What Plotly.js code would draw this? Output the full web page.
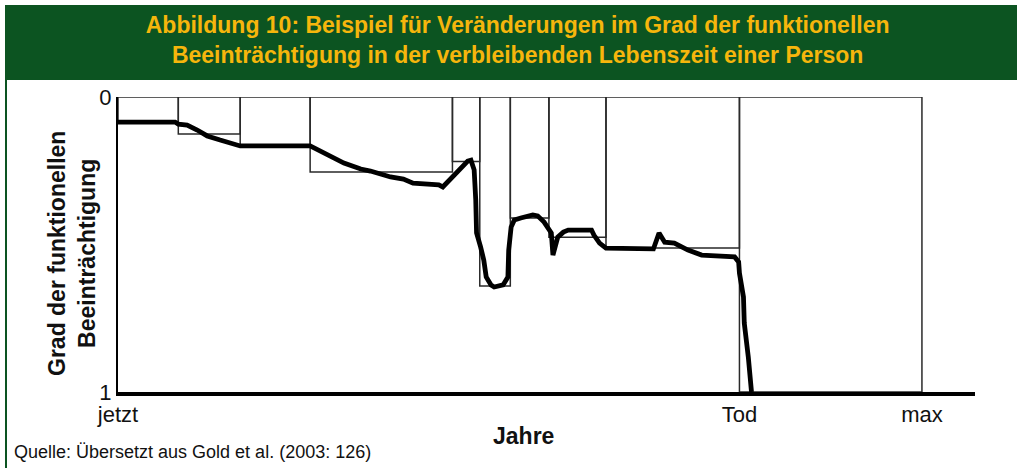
<!DOCTYPE html>
<html>
<head>
<meta charset="utf-8">
<script src="https://cdn.plot.ly/plotly-3.0.1.min.js"></script>
<style>
  html, body { margin: 0; padding: 0; background: #fff; }
  #chart { width: 1017px; height: 468px; }
</style>
</head>
<body>
<div id="chart"></div>
<script>
// --- Daten (Zeit: jetzt = 0, max = 100; Beeinträchtigung: 0 oben, 1 unten) ---
const stufenGrenzen = [0, 7.5, 15.2, 23.9, 41.6, 45.0, 48.8, 53.6, 60.7, 77.3, 100];
const stufenNiveau = [0.085, 0.125, 0.166, 0.254, 0.219, 0.641, 0.41, 0.475, 0.512, 1.0];

const verlaufX = [0, 7.1, 7.5, 8.6, 9.85, 11.1, 12.7, 15.2, 23.9, 24.6, 25.2, 26.8, 28.1, 30.2, 31.4,
  33.9, 35.5, 36.7, 39.9, 40.4, 43.5, 43.9, 44.3, 44.5, 44.6, 45.1, 45.5, 45.8, 46.4, 46.8, 47.9,
  48.5, 48.6, 48.9, 49.3, 50.1, 51.6, 52.2, 53.0, 53.9, 54.1, 54.7, 55.4, 56.0, 58.9, 59.2, 59.9,
  60.7, 66.6, 67.3, 68.0, 69.2, 70.9, 72.6, 76.7, 77.2, 77.3, 77.8, 77.9, 78.4, 78.8];
const verlaufY = [0.085, 0.085, 0.092, 0.095, 0.112, 0.132, 0.146, 0.166, 0.166, 0.176, 0.180, 0.203, 0.224, 0.244, 0.251,
  0.271, 0.278, 0.292, 0.298, 0.305, 0.217, 0.214, 0.247, 0.349, 0.461, 0.508, 0.553, 0.610, 0.637, 0.644, 0.637,
  0.610, 0.519, 0.441, 0.417, 0.410, 0.400, 0.403, 0.424, 0.461, 0.536, 0.475, 0.458, 0.451, 0.451, 0.468, 0.495,
  0.512, 0.515, 0.461, 0.492, 0.495, 0.519, 0.536, 0.542, 0.559, 0.597, 0.678, 0.766, 0.881, 1.0];

const xTickWerte = [0, 77.3, 100];
const xTickTexte = ['jetzt', 'Tod', 'max'];
const yTickWerte = [0, 1];
const yTickTexte = ['0', '1'];

// --- Stufen (Rechtecke) als ein Linienzug ---
const boxX = [], boxY = [];
for (let i = 0; i < stufenNiveau.length; i++) {
  const x0 = stufenGrenzen[i], x1 = stufenGrenzen[i + 1], l = stufenNiveau[i];
  boxX.push(x0, x0, x1, x1, null);
  boxY.push(0, l, l, 0, null);
}
// obere Linie
boxX.push(stufenGrenzen[0], stufenGrenzen[stufenGrenzen.length - 1]);
boxY.push(0, 0);

const gruen = '#0c5421';
const gelb = '#f6b60c';
const schrift = 'Liberation Sans, Arial, sans-serif';

const traces = [
  { x: boxX, y: boxY, type: 'scatter', mode: 'lines', line: { color: '#2a2a2a', width: 1.5 }, hoverinfo: 'skip' },
  { x: verlaufX, y: verlaufY, type: 'scatter', mode: 'lines', line: { color: '#000', width: 4.8 }, hoverinfo: 'skip' }
];

// Papierkoordinaten aus Pixeln (Plotbereich 118..975 x 97..392)
const px = (p) => (p - 118) / 857;
const py = (p) => (392 - p) / 295;

const layout = {
  width: 1017, height: 468,
  margin: { l: 118, r: 42, t: 97, b: 76 },
  paper_bgcolor: '#fff', plot_bgcolor: '#fff',
  showlegend: false,
  font: { family: schrift, color: '#111' },
  title: {
    text: 'Abbildung 10: Beispiel für Veränderungen im Grad der funktionellen<br>Beeinträchtigung in der verbleibenden Lebenszeit einer Person',
    font: { family: schrift, size: 23, color: gelb, weight: 'bold' },
    xref: 'container', x: 0.509, xanchor: 'center',
    yref: 'container', y: 1 - 33 / 468, yanchor: 'middle'
  },
  xaxis: {
    range: [0, 106.6], showgrid: false, zeroline: false,
    showline: true, linecolor: '#000', linewidth: 4,
    tickvals: xTickWerte, ticktext: xTickTexte, ticks: '',
    tickfont: { size: 22, color: '#111' }, fixedrange: true
  },
  yaxis: {
    range: [1, 0], showgrid: false, zeroline: false,
    showline: true, linecolor: '#000', linewidth: 2,
    tickvals: yTickWerte, ticktext: yTickTexte, ticks: '',
    tickfont: { size: 22, color: '#111' }, fixedrange: true
  },
  shapes: [
    { type: 'rect', xref: 'paper', yref: 'paper', x0: px(5), x1: px(1017), y0: py(80), y1: py(5),
      fillcolor: gruen, line: { width: 0 }, layer: 'below' },
    { type: 'line', xref: 'paper', yref: 'paper', x0: px(6), x1: px(6), y0: py(468), y1: py(80),
      line: { color: gruen, width: 2 } }
  ],
  annotations: [
    { text: 'Grad der funktionellen<br>Beeinträchtigung', xref: 'paper', yref: 'paper',
      x: px(72), y: py(254), xanchor: 'center', yanchor: 'middle', textangle: -90, showarrow: false,
      font: { family: schrift, size: 23, color: '#111', weight: 'bold' } },
    { text: 'Jahre', xref: 'paper', yref: 'paper', x: px(523), y: py(436),
      xanchor: 'center', yanchor: 'middle', showarrow: false,
      font: { family: schrift, size: 23, color: '#111', weight: 'bold' } },
    { text: 'Quelle: Übersetzt aus Gold et al. (2003: 126)', xref: 'paper', yref: 'paper',
      x: px(12), y: py(452), xanchor: 'left', yanchor: 'middle', showarrow: false,
      font: { family: schrift, size: 18, color: '#111' } }
  ]
};

Plotly.newPlot('chart', traces, layout, { displayModeBar: false, staticPlot: true });
</script>
</body>
</html>
